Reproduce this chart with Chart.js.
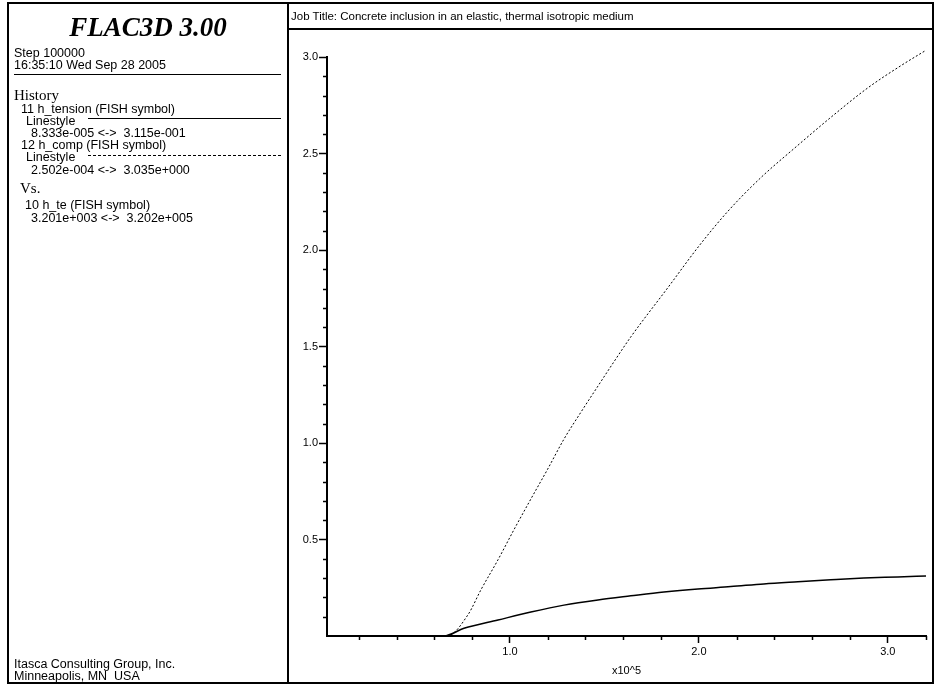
<!DOCTYPE html>
<html>
<head>
<meta charset="utf-8">
<script src="https://cdn.jsdelivr.net/npm/chart.js@4"></script>
<style>
  body { margin: 0; width: 935px; height: 684px; background: #fff; position: relative; overflow: hidden;
         font-family: "Liberation Sans", Arial, sans-serif; color: #000; }
  #plot { position: absolute; left: 0; top: 0; }
  .box { position: absolute; border: 2px solid #000; box-sizing: border-box; }
  .t { position: absolute; font-size: 12.5px; line-height: 12px; white-space: pre; }
  .serif { font-family: "Liberation Serif", "Times New Roman", serif; font-size: 15px; line-height: 16px; }
  .rule { position: absolute; height: 0; border-top: 1.5px solid #000; }
</style>
</head>
<body>
<canvas id="plot" width="935" height="684"></canvas>
<div class="box" style="left:7px;top:2px;width:282px;height:682px"></div>
<div class="box" style="left:287px;top:2px;width:647px;height:682px"></div>
<div class="rule" style="left:287px;top:28px;width:647px;border-top-width:2px"></div>
<div class="t" style="left:291px;top:9px;font-size:11.5px;line-height:14px">Job Title: Concrete inclusion in an elastic, thermal isotropic medium</div>

<div class="t" style="left:9px;width:278px;top:12px;text-align:center;font-family:'Liberation Serif',serif;font-weight:bold;font-style:italic;font-size:27px;line-height:30px">FLAC3D 3.00</div>
<div class="t" style="left:14px;top:47px">Step 100000</div>
<div class="t" style="left:14px;top:59px">16:35:10 Wed Sep 28 2005</div>
<div class="rule" style="left:14px;top:74px;width:267px"></div>
<div class="t serif" style="left:14px;top:87px">History</div>
<div class="t" style="left:21px;top:103px">11 h_tension (FISH symbol)</div>
<div class="t" style="left:26px;top:115px">Linestyle</div>
<div class="rule" style="left:88px;top:118px;width:193px"></div>
<div class="t" style="left:31px;top:127px">8.333e-005 &lt;-&gt;  3.115e-001</div>
<div class="t" style="left:21px;top:139px">12 h_comp (FISH symbol)</div>
<div class="t" style="left:26px;top:151px">Linestyle</div>
<div class="rule" style="left:88px;top:155px;width:193px;border-top:1px dashed #000"></div>
<div class="t" style="left:31px;top:164px">2.502e-004 &lt;-&gt;  3.035e+000</div>
<div class="t serif" style="left:20px;top:180px">Vs.</div>
<div class="t" style="left:25px;top:199px">10 h_te (FISH symbol)</div>
<div class="t" style="left:31px;top:212px">3.201e+003 &lt;-&gt;  3.202e+005</div>
<div class="t" style="left:14px;top:658px">Itasca Consulting Group, Inc.</div>
<div class="t" style="left:14px;top:670px">Minneapolis, MN  USA</div>

<script>
// h_te in units of 1e5
const teTension = [0.032, 0.65, 0.757, 0.937, 1.111, 1.286, 1.466, 1.64, 1.815, 1.995, 2.169, 2.344, 2.524, 2.698, 2.873, 3.053, 3.202];
const hTension  = [0.0000833, 0.0000833, 0.04, 0.083, 0.124, 0.16, 0.187, 0.208, 0.228, 0.244, 0.256, 0.27, 0.281, 0.291, 0.3, 0.306, 0.3115];
const teComp = [0.032, 0.667, 0.778, 0.847, 0.937, 1.021, 1.111, 1.2, 1.286, 1.376, 1.466, 1.55, 1.64, 1.836, 2.0, 2.153, 2.328, 2.503, 2.714, 2.894, 3.069, 3.202];
const hComp  = [0.00025, 0.00025, 0.11, 0.24, 0.395, 0.55, 0.71, 0.865, 1.02, 1.16, 1.295, 1.42, 1.55, 1.805, 2.02, 2.2, 2.375, 2.525, 2.7, 2.84, 2.955, 3.035];
const xTicks = [1.0, 2.0, 3.0];
const yTicks = [0.5, 1.0, 1.5, 2.0, 2.5, 3.0];
const xMinor = [0.2, 0.4, 0.6, 0.8, 1.2, 1.4, 1.6, 1.8, 2.2, 2.4, 2.6, 2.8, 3.2];
const yMinor = [0.1, 0.2, 0.3, 0.4, 0.6, 0.7, 0.8, 0.9, 1.1, 1.2, 1.3, 1.4, 1.6, 1.7, 1.8, 1.9,
                2.1, 2.2, 2.3, 2.4, 2.6, 2.7, 2.8, 2.9];

const pts = (xs, ys) => xs.map((x, i) => ({ x: x, y: ys[i] }));

// short ticks between the labelled ones
const minorTicks = {
    id: "minorTicks",
    afterDraw(chart) {
        const ctx = chart.ctx, xs = chart.scales.x, ys = chart.scales.y;
        ctx.save();
        ctx.strokeStyle = "#000";
        ctx.lineWidth = 1.5;
        ctx.beginPath();
        xMinor.forEach((v) => {
            if (v < xs.min || v > xs.max) return;
            const px = Math.round(xs.getPixelForValue(v)) + 0.5;
            ctx.moveTo(px, xs.top); ctx.lineTo(px, xs.top + 4);
        });
        yMinor.forEach((v) => {
            const py = Math.round(ys.getPixelForValue(v)) + 0.5;
            ctx.moveTo(ys.right, py); ctx.lineTo(ys.right - 4, py);
        });
        ctx.stroke();
        ctx.restore();
    },
};

new Chart(document.getElementById("plot"), {
    type: "scatter",
    data: {
        datasets: [
            { label: "h_tension", data: pts(teTension, hTension), showLine: true, borderColor: "#000",
              borderWidth: 1.5, pointRadius: 0, cubicInterpolationMode: "monotone", clip: false },
            { label: "h_comp", data: pts(teComp, hComp), showLine: true, borderColor: "#000",
              borderWidth: 1, borderDash: [2, 2], pointRadius: 0, cubicInterpolationMode: "monotone", clip: false },
        ],
    },
    options: {
        responsive: false,
        animation: false,
        events: [],
        layout: { padding: { left: 287, top: 57, right: 9, bottom: 0 } },
        plugins: { legend: { display: false }, tooltip: { enabled: false } },
        scales: {
            x: {
                type: "linear", min: 0.032, max: 3.202,
                afterBuildTicks: (s) => { s.ticks = xTicks.map((v) => ({ value: v })); },
                afterFit: (s) => { s.height = 48; },
                border: { color: "#000", width: 2 },
                grid: { drawOnChartArea: false, tickLength: 7, tickColor: "#000", tickWidth: 1.5 },
                ticks: { color: "#000", padding: 2, font: { family: "Liberation Sans", size: 11 },
                         maxRotation: 0, callback: (v) => v.toFixed(1) },
                title: { display: true, text: "x10^5", color: "#000", padding: { top: 4, bottom: 6 },
                         font: { family: "Liberation Sans", size: 11 } },
            },
            y: {
                type: "linear", min: 0, max: 3.0,
                afterBuildTicks: (s) => { s.ticks = yTicks.map((v) => ({ value: v })); },
                afterFit: (s) => { s.width = 40; },
                border: { color: "#000", width: 2 },
                grid: { drawOnChartArea: false, tickLength: 8, tickColor: "#000", tickWidth: 1.5 },
                ticks: { color: "#000", padding: 1, font: { family: "Liberation Sans", size: 11 },
                         callback: (v) => v.toFixed(1) },
            },
        },
    },
    plugins: [minorTicks],
});
</script>
</body>
</html>
